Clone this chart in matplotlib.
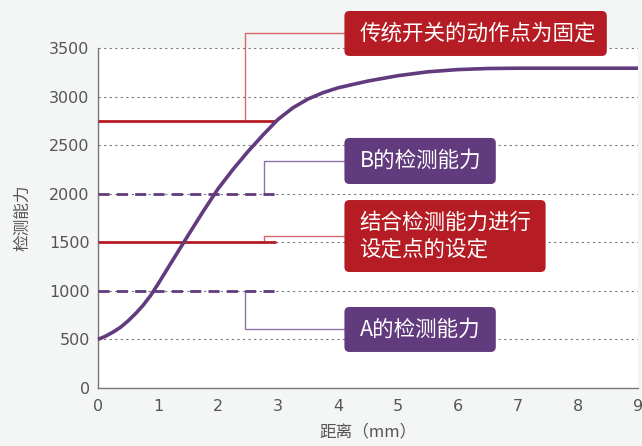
import numpy as np
import matplotlib.pyplot as plt
from matplotlib.patches import FancyBboxPatch

plt.rcParams['font.family'] = ['Noto Sans CJK SC', 'DejaVu Sans']

# detection curve (distance in mm vs detection capability)
distance = [0, 0.125, 0.25, 0.375, 0.5, 0.625, 0.75, 0.875, 1.0, 1.25, 1.5, 1.75,
            2.0, 2.25, 2.5, 2.75, 3.0, 3.25, 3.5, 3.75, 4.0, 4.5, 5.0, 5.5,
            6.0, 6.5, 7.0, 8.0, 9.0]
capability = [500, 533, 575, 625, 690, 765, 850, 950, 1070, 1320, 1570, 1815,
              2050, 2250, 2435, 2605, 2765, 2885, 2975, 3040, 3090, 3160, 3215, 3255,
              3278, 3289, 3292, 3292, 3292]

# threshold levels drawn from x=0 to x=3
fixed_point = 2750
b_level = 2000
set_point = 1500
a_level = 1000
level_end = 2.97

yticks = [0, 500, 1000, 1500, 2000, 2500, 3000, 3500]
xticks = list(range(10))

red = '#b51c24'
red_thin = '#d8666d'
purple = '#623a7e'
purple_thin = '#8f72a8'
bg = '#f4f6f6'

fig = plt.figure(figsize=(6.42, 4.46), dpi=100, facecolor=bg)
ax_rect = [98 / 642, 58 / 446, 540 / 642, 340 / 446]
ax = fig.add_axes(ax_rect)
ax.set_facecolor('white')
ax.set_xlim(0, 9)
ax.set_ylim(0, 3500)

for y in yticks[1:]:
    ax.axhline(y, color='#777777', lw=0.8, ls=(0, (2, 3)), zorder=1)

ax.plot([0, level_end], [fixed_point] * 2, color=red, lw=2, zorder=3, solid_capstyle='butt')
ax.plot([0, level_end], [set_point] * 2, color=red, lw=2, zorder=3, solid_capstyle='butt')
ax.plot([0, level_end], [b_level] * 2, color=purple, lw=2, ls=(0, (4, 2.6)), zorder=3)
ax.plot([0, level_end], [a_level] * 2, color=purple, lw=2, ls=(0, (4, 2.6)), zorder=3)

ax.plot(distance, capability, color=purple, lw=2.6, zorder=4, clip_on=False,
        solid_capstyle='butt', solid_joinstyle='round')

# callout boxes: (left, bottom, right, top) in data units
ppx = ax_rect[2] * 642 / 9
ppy = ax_rect[3] * 446 / 3500
aspect = ppx / ppy
rs = 5 / ppx

boxes = [
    (4.107, 3418, 8.48, 3881, red, '传统开关的动作点为固定', 2.454, fixed_point),
    (4.107, 2100, 6.63, 2574, purple, 'B的检测能力', 2.77, b_level),
    (4.107, 1194, 7.46, 1935, red, '结合检测能力进行\n设定点的设定', 2.77, set_point),
    (4.107, 371, 6.63, 834, purple, 'A的检测能力', 2.454, a_level),
]
for x0, y0, x1, y1, c, label, cx, cy in boxes:
    patch = FancyBboxPatch((x0, y0), x1 - x0, y1 - y0,
                           boxstyle=f'round,pad=0,rounding_size={rs}',
                           mutation_aspect=aspect, fc=c, ec='none',
                           zorder=5, clip_on=False)
    ax.add_patch(patch)
    ym = (y0 + y1) / 2
    ax.text(x0 + 15 / ppx, ym, label, color='white', fontsize=15.5,
            ha='left', va='center', linespacing=1.25, zorder=6, clip_on=False)
    thin = red_thin if c == red else purple_thin
    ax.plot([cx, cx, x0], [cy, ym, ym], color=thin, lw=1, zorder=2, clip_on=False)

for s in ['top', 'right']:
    ax.spines[s].set_visible(False)
for s in ['left', 'bottom']:
    ax.spines[s].set_color('#777777')
    ax.spines[s].set_linewidth(1)
ax.set_xticks(xticks)
ax.set_yticks(yticks)
ax.tick_params(length=0, colors='#555555', labelsize=11.5)
ax.tick_params(axis='x', pad=8)
ax.tick_params(axis='y', pad=6)
for t in ax.get_xticklabels() + ax.get_yticklabels():
    t.set_fontfamily('DejaVu Sans')

ax.set_xlabel('距离（mm）', fontsize=12, color='#555555', labelpad=7)
ax.set_ylabel('检测能力', fontsize=12, color='#555555', labelpad=13)

fig.savefig('out.png', dpi=100, facecolor=bg)
